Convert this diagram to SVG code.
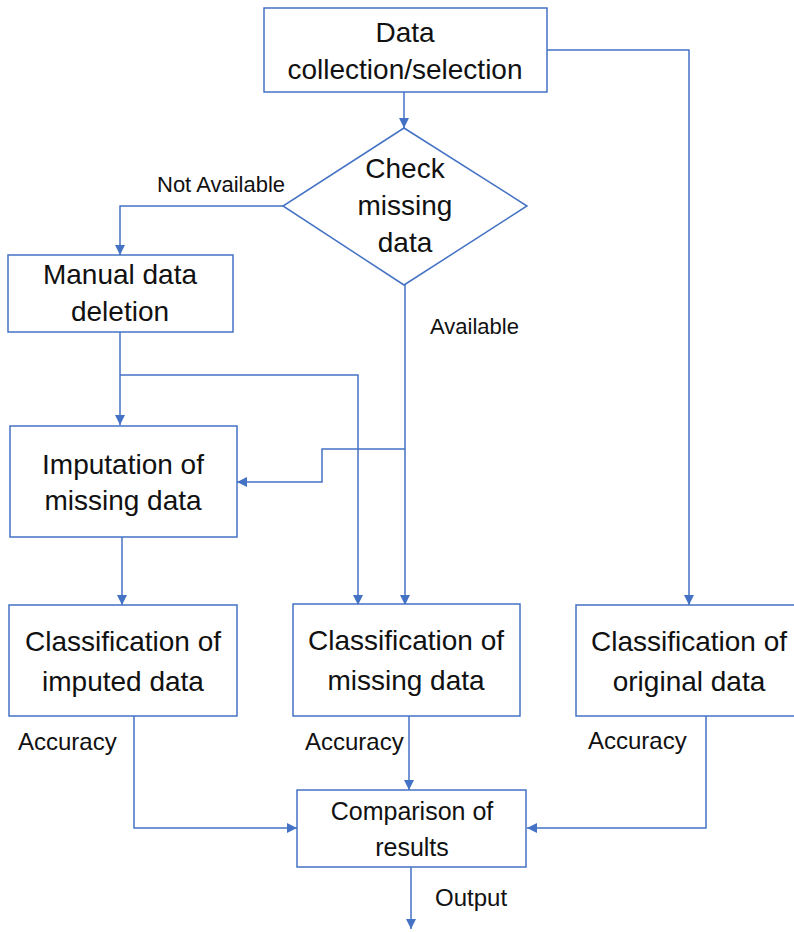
<svg xmlns="http://www.w3.org/2000/svg" width="794" height="932" viewBox="0 0 794 932">
<style>
.box{fill:#fff;stroke:#4472C4;stroke-width:1.5}
.ln{fill:none;stroke:#4472C4;stroke-width:1.5}
.t{font-family:"Liberation Sans",Arial,sans-serif;font-size:28px;fill:#111;text-anchor:middle}
.s{font-family:"Liberation Sans",Arial,sans-serif;font-size:22px;fill:#111}
.m{font-family:"Liberation Sans",Arial,sans-serif;font-size:24px;fill:#111}
</style>
<defs>
<marker id="ah" viewBox="0 0 10 10" refX="10" refY="5" markerWidth="10" markerHeight="10" markerUnits="userSpaceOnUse" orient="auto">
<path d="M0,0 L10,5 L0,10 z" fill="#4472C4"/>
</marker>
</defs>
<rect width="794" height="932" fill="#fff"/>
<g id="connectors">
<path class="ln" d="M404,92 V128" marker-end="url(#ah)"/>
<path class="ln" d="M547,50 H689 V605" marker-end="url(#ah)"/>
<path class="ln" d="M283,206 H120 V255" marker-end="url(#ah)"/>
<path class="ln" d="M120,332 V425" marker-end="url(#ah)"/>
<path class="ln" d="M120,375 H358 V605" marker-end="url(#ah)"/>
<path class="ln" d="M405,285 V605" marker-end="url(#ah)"/>
<path class="ln" d="M405,449 H322 V482 H237" marker-end="url(#ah)"/>
<path class="ln" d="M122,537 V605" marker-end="url(#ah)"/>
<path class="ln" d="M134,716 V828 H297" marker-end="url(#ah)"/>
<path class="ln" d="M409,716 V790" marker-end="url(#ah)"/>
<path class="ln" d="M706,716 V828 H527" marker-end="url(#ah)"/>
<path class="ln" d="M411,867 V929" marker-end="url(#ah)"/>
<text class="s" x="157" y="192">Not Available</text>
<text class="s" x="430" y="334">Available</text>
<text class="m" x="18" y="750">Accuracy</text>
<text class="m" x="305" y="750">Accuracy</text>
<text class="m" x="588" y="749">Accuracy</text>
<text class="m" x="435" y="906">Output</text>
</g>
<g id="n-data">
<rect class="box" x="264" y="8" width="283" height="84"/>
<text class="t" x="405" y="42">Data</text>
<text class="t" x="405" y="79">collection/selection</text>
</g>
<g id="n-check">
<polygon class="box" points="404,128 527,206 404,285 283,206"/>
<text class="t" x="405" y="178">Check</text>
<text class="t" x="405" y="215">missing</text>
<text class="t" x="405" y="252">data</text>
</g>
<g id="n-manual">
<rect class="box" x="8" y="255" width="225" height="77"/>
<text class="t" x="120" y="284">Manual data</text>
<text class="t" x="120" y="321">deletion</text>
</g>
<g id="n-impute">
<rect class="box" x="10" y="426" width="227" height="111"/>
<text class="t" x="123" y="474">Imputation of</text>
<text class="t" x="123" y="510">missing data</text>
</g>
<g id="n-cls-imp">
<rect class="box" x="9" y="605" width="228" height="111"/>
<text class="t" x="123" y="651">Classification of</text>
<text class="t" x="123" y="691">imputed data</text>
</g>
<g id="n-cls-miss">
<rect class="box" x="293" y="604" width="227" height="112"/>
<text class="t" x="406" y="650">Classification of</text>
<text class="t" x="406" y="690">missing data</text>
</g>
<g id="n-cls-orig">
<rect class="box" x="576" y="605" width="230" height="111"/>
<text class="t" x="689" y="651">Classification of</text>
<text class="t" x="689" y="691">original data</text>
</g>
<g id="n-compare">
<rect class="box" x="297" y="790" width="229" height="77"/>
<text class="t" x="412" y="820" style="font-size:25px">Comparison of</text>
<text class="t" x="412" y="856" style="font-size:25px">results</text>
</g>
</svg>
